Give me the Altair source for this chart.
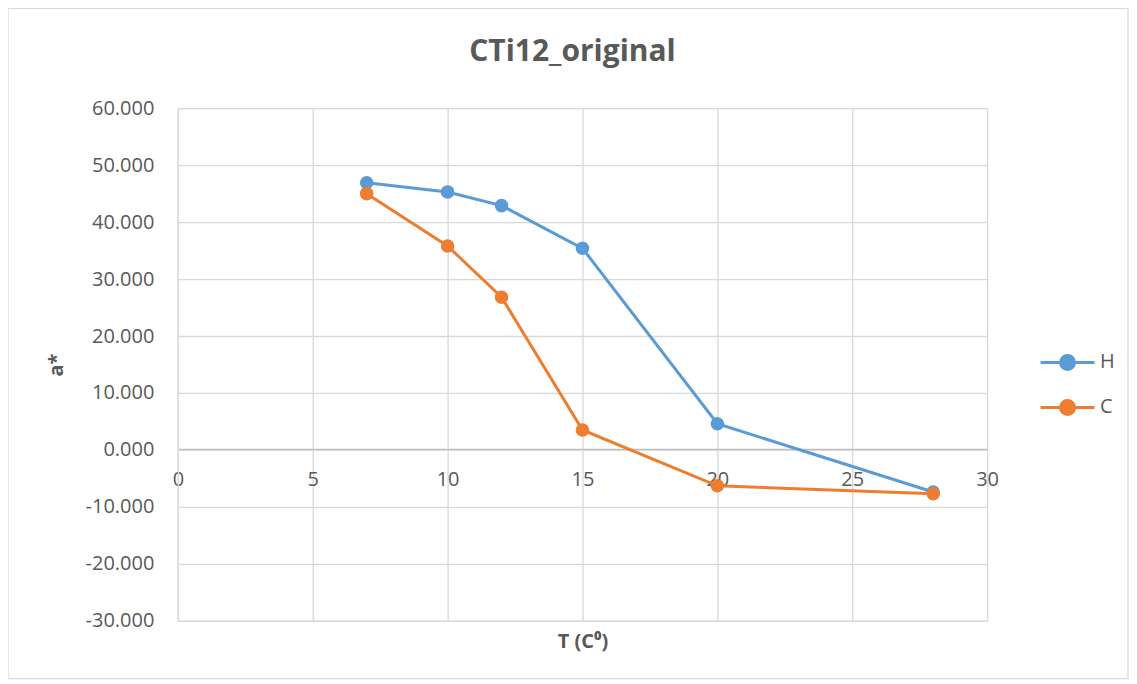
import altair as alt
import pandas as pd

temps = [7, 10, 12, 15, 20, 28]
h_vals = [46.9, 45.3, 42.9, 35.4, 4.6, -7.4]
c_vals = [45.0, 35.8, 26.8, 3.5, -6.3, -7.7]
series_names = ["H", "C"]
series_colors = ["#5B9BD5", "#ED7D31"]
x_ticks = [0, 5, 10, 15, 20, 25, 30]
y_ticks = [-30, -20, -10, 0, 10, 20, 30, 40, 50, 60]
chart_title = ["CTi12_original"]

rows = []
for name, vals in zip(series_names, [h_vals, c_vals]):
    for t, v in zip(temps, vals):
        rows.append({"T": t, "a": v, "series": name})
df = pd.DataFrame(rows)

FONT = "Open Sans"
GREY = "#595959"
W, H = 810, 513

legend_path = ("M-1,0L1,0M-0.26,0A0.26,0.26 0 1 1 0.26,0"
               "A0.26,0.26 0 1 1 -0.26,0Z")

x_enc = alt.X(
    "T:Q",
    scale=alt.Scale(domain=[0, 30], nice=False, zero=False),
    axis=alt.Axis(
        values=x_ticks, offset=-172, labelFlush=False, ticks=False,
        grid=True, gridColor="#d9d9d9", gridWidth=1.3,
        domainColor="#bfbfbf", domainWidth=1.3,
        labelFont=FONT, labelFontSize=20, labelColor=GREY,
        labelPadding=21,
        title="T (C⁰)", titleFont=FONT, titleFontSize=20,
        titleFontWeight="bold", titleColor=GREY,
        titleY=183, titleX=W / 2,
    ),
)
y_enc = alt.Y(
    "a:Q",
    scale=alt.Scale(domain=[-30, 60], nice=False),
    axis=alt.Axis(
        values=y_ticks, ticks=False,
        labelExpr="(datum.value < 0 ? '-' : '') + format(abs(datum.value), '.3f')",
        grid=True, gridColor="#d9d9d9", gridWidth=1.3,
        domainColor="#d9d9d9", domainWidth=1.3,
        labelFont=FONT, labelFontSize=20, labelColor=GREY,
        labelPadding=24,
        title="a*", titleFont=FONT, titleFontSize=20,
        titleFontWeight="bold", titleColor=GREY,
        titleX=-121, titleY=H / 2, titleAngle=-90, titleBaseline="middle",
    ),
)
color_enc = alt.Color(
    "series:N",
    scale=alt.Scale(domain=series_names, range=series_colors),
    legend=alt.Legend(
        title=None, orient="none", legendX=862, legendY=226,
        symbolType=legend_path, symbolSize=2916, symbolStrokeWidth=3,
        labelFont=FONT, labelFontSize=20, labelColor=GREY,
        rowPadding=3, labelOffset=4,
    ),
)

base = alt.Chart(df)
lines = base.mark_line(strokeWidth=3).encode(
    x=x_enc, y=y_enc, color=color_enc, order="T:Q"
)
points = base.mark_point(filled=True, size=185, opacity=1).encode(
    x=x_enc, y=y_enc, color=color_enc
)

border = alt.Chart(pd.DataFrame({"k": [0]})).mark_rect(
    fill=None, stroke="#d9d9d9", strokeWidth=1.3
).encode(
    x=alt.value(-170), x2=alt.value(W + 141),
    y=alt.value(-100), y2=alt.value(H + 58),
)

title = alt.Chart(pd.DataFrame({"t": chart_title})).mark_text(
    font=FONT, fontSize=30, fontWeight="bold", color=GREY,
    align="center", baseline="alphabetic",
).encode(
    text="t:N", x=alt.value(395), y=alt.value(-47),
)

chart = alt.layer(border, lines, points, title).properties(
    width=W, height=H,
    autosize=alt.AutoSizeParams(type="none"),
    padding={"left": 170, "top": 100, "right": 142, "bottom": 59},
).configure_view(stroke=None).configure(background="white")

chart.save("out.html", embed_options={"renderer": "svg", "actions": False})
